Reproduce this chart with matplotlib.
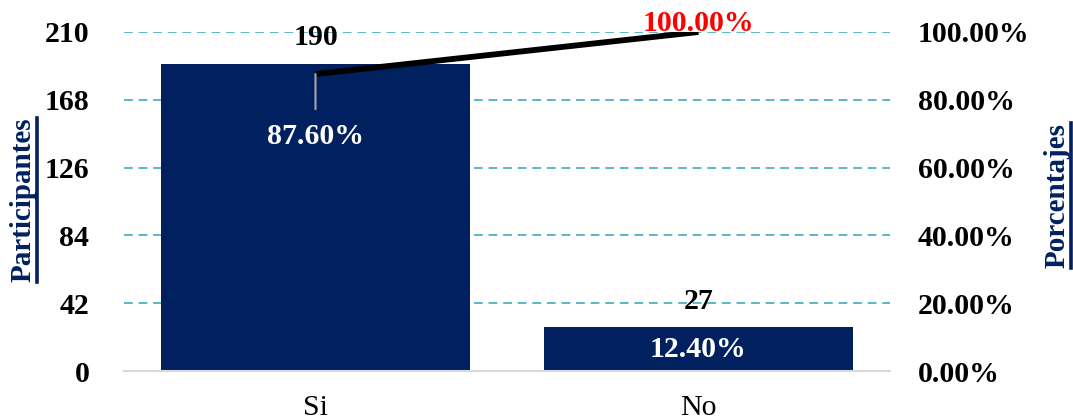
import matplotlib
matplotlib.use('Agg')
import matplotlib.pyplot as plt
from matplotlib.lines import Line2D
from matplotlib.ticker import FuncFormatter

# datos
categorias = ['Si', 'No']
participantes = [190, 27]
porcentajes = [87.60, 12.40]
acumulado = [87.60, 100.00]
ticks_izq = [0, 42, 84, 126, 168, 210]
ticks_der = [0, 20, 40, 60, 80, 100]

plt.rcParams['font.family'] = ['Liberation Serif', 'DejaVu Serif']

azul = '#002060'
fig = plt.figure(figsize=(10.73, 4.2), dpi=100)
ax = fig.add_axes([124/1073, 1-371/420, (890-124)/1073, (371-32)/420])
ax2 = ax.twinx()

x = list(range(len(categorias)))
barras = ax.bar(x, participantes, width=0.805, color=azul, zorder=2)
ax.set_xlim(-0.5, 1.5)
ax.set_ylim(0, 210)
ax.set_yticks(ticks_izq)
ax.set_xticks(x)
ax.set_xticklabels(categorias, fontsize=21.5)
ax.tick_params(axis='x', length=0, pad=17)
ax.tick_params(axis='y', length=0, pad=25, labelsize=21.5)
for t in ax.get_yticklabels():
    t.set_fontweight('bold')

# rejilla punteada
for v in ticks_izq[1:]:
    ax.axhline(v, color='#5bb5c9', lw=1.4, ls=(0, (4.5, 3)), zorder=1)
for s in ['top', 'left', 'right']:
    ax.spines[s].set_visible(False)
ax.spines['bottom'].set_color('#d9d9d9')
ax.spines['bottom'].set_linewidth(1.5)
for s in ax2.spines.values():
    s.set_visible(False)

# eje de porcentajes
ax2.set_ylim(0, 100)
ax2.set_yticks(ticks_der)
ax2.yaxis.set_major_formatter(FuncFormatter(lambda v, p: f'{v:.2f}%'))
ax2.tick_params(axis='y', length=0, pad=20, labelsize=21.5)
for t in ax2.get_yticklabels():
    t.set_fontweight('bold')
ax2.plot(x, acumulado, color='black', lw=4.2, solid_capstyle='butt', zorder=3)

# etiquetas de valores
for xi, v in zip(x, participantes):
    ax.annotate(str(v), (xi, v), xytext=(0, 19), textcoords='offset points',
                ha='center', va='center', fontsize=21.5, fontweight='bold')

ax2.annotate(f'{acumulado[0]:.2f}%', (x[0], acumulado[0]), xytext=(0, -45),
             textcoords='offset points', ha='center', va='center',
             fontsize=21.5, fontweight='bold', color='white',
             arrowprops=dict(arrowstyle='-', color='#a6a6a6', lw=1.5,
                             shrinkA=8, shrinkB=0))
ax2.annotate(f'{acumulado[1]:.2f}%', (x[1], acumulado[1]), xytext=(0, 6),
             textcoords='offset points', ha='center', va='center',
             fontsize=21.5, fontweight='bold', color='red')
ax.text(x[1], participantes[1] / 2, f'{porcentajes[1]:.2f}%', ha='center',
        va='center', fontsize=21.5, fontweight='bold', color='white', zorder=3)

# titulos de ejes subrayados
t1 = fig.text(23/1073, 1-200/420, 'Participantes', rotation=90, ha='center',
              va='center', fontsize=21, fontweight='bold', color=azul)
t2 = fig.text(1057/1073, 1-195/420, 'Porcentajes', rotation=90, ha='center',
              va='center', fontsize=21, fontweight='bold', color=azul)
fig.canvas.draw()
r = fig.canvas.get_renderer()
for t in (t1, t2):
    bb = t.get_window_extent(r).transformed(fig.transFigure.inverted())
    xl = bb.x1
    fig.add_artist(Line2D([xl, xl], [bb.y0, bb.y1], color=azul, lw=2.6,
                          transform=fig.transFigure))

fig.savefig('out.png', dpi=100)
